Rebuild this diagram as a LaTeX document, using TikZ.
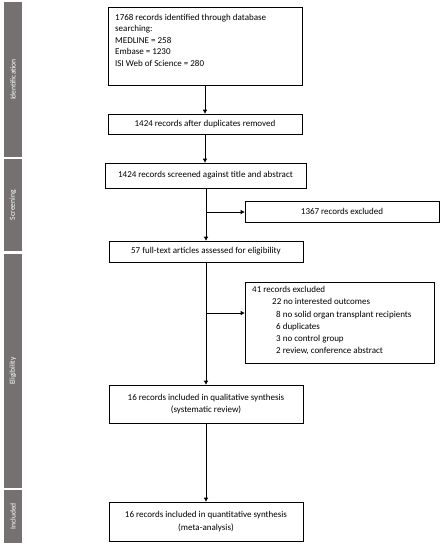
\documentclass[tikz,border=0pt]{standalone}
\usepackage{fontspec}
\setmainfont{Carlito}
\usetikzlibrary{positioning, arrows.meta}
\definecolor{stagegray}{HTML}{767171}

\begin{document}
\begin{tikzpicture}[x=1pt, y=-1pt,
  box/.style={draw, line width=0.8pt, inner sep=0pt, align=center, font=\fontsize{9}{12}\selectfont},
  txt/.style={inner sep=0pt, anchor=north west, align=left},
  stage/.style={fill=stagegray, text=white, rotate=90, minimum height=18pt, inner sep=0pt, font=\fontsize{7.6}{8}\selectfont},
  arr/.style={-{Triangle[length=4pt,width=4pt]}, line width=0.8pt}]
\useasboundingbox (0,0) rectangle (444,550);

% stages on the left
\node[stage, minimum width=155pt] (id) at (13,79.5) {Identification};
\node[stage, minimum width=92pt] (scr) at (13,205) {Screening};
\node[stage, minimum width=234pt] (elig) at (13,371) {Eligibility};
\node[stage, minimum width=53pt] (incl) at (13,516.5) {Included};

% main column
\node[box, minimum width=194pt, minimum height=78pt] (ident) at (205,46) {};
\node[txt, font=\fontsize{9}{11.4}\selectfont] (identtxt) at (115,14) {1768 records identified through database\\searching:\\MEDLINE = 258\\Embase = 1230\\ISI Web of Science = 280};
\node[box, minimum width=194pt, minimum height=20pt] (dup) at (205,124) {1424 records after duplicates removed};
\node[box, minimum width=201pt, minimum height=25pt] (screen) at (205.5,175.5) {1424 records screened against title and abstract};
\node[box, minimum width=194pt, minimum height=21pt] (full) at (206,251.5) {57 full-text articles assessed for eligibility};
\node[box, minimum width=194pt, minimum height=38pt] (qual) at (206,404) {16 records included in qualitative synthesis\\(systematic review)};
\node[box, minimum width=194pt, minimum height=39pt, font=\fontsize{9}{12.6}\selectfont] (quant) at (206,521.5) {16 records included in quantitative synthesis\\(meta-analysis)};

% exclusions
\node[box, minimum width=194pt, minimum height=21pt] (excl1) at (342,211.5) {1367 records excluded};
\node[box, minimum width=189pt, minimum height=81pt] (excl2) at (339.5,322.5) {};
\node[txt, font=\fontsize{9}{12.3}\selectfont] (excltxt) at (252,286) {41 records excluded\\
\hspace*{20pt}22 no interested outcomes\\
\hspace*{24pt}8 no solid organ transplant recipients\\
\hspace*{24pt}6 duplicates\\
\hspace*{24pt}3 no control group\\
\hspace*{24pt}2 review, conference abstract};

\coordinate (b1) at (206,212);
\coordinate (b2) at (206,313);

% connectors
\draw[arr] (ident.south) -- (ident.south |- dup.north);
\draw[arr] (dup.south) -- (dup.south |- screen.north);
\draw[arr] (screen.south -| full.north) -- (full.north);
\draw[arr] (full.south) -- (qual.north);
\draw[arr] (qual.south) -- (quant.north);
\draw[arr] (b1) -- (b1 -| excl1.west);
\draw[arr] (b2) -- (b2 -| excl2.west);
\end{tikzpicture}
\end{document}
